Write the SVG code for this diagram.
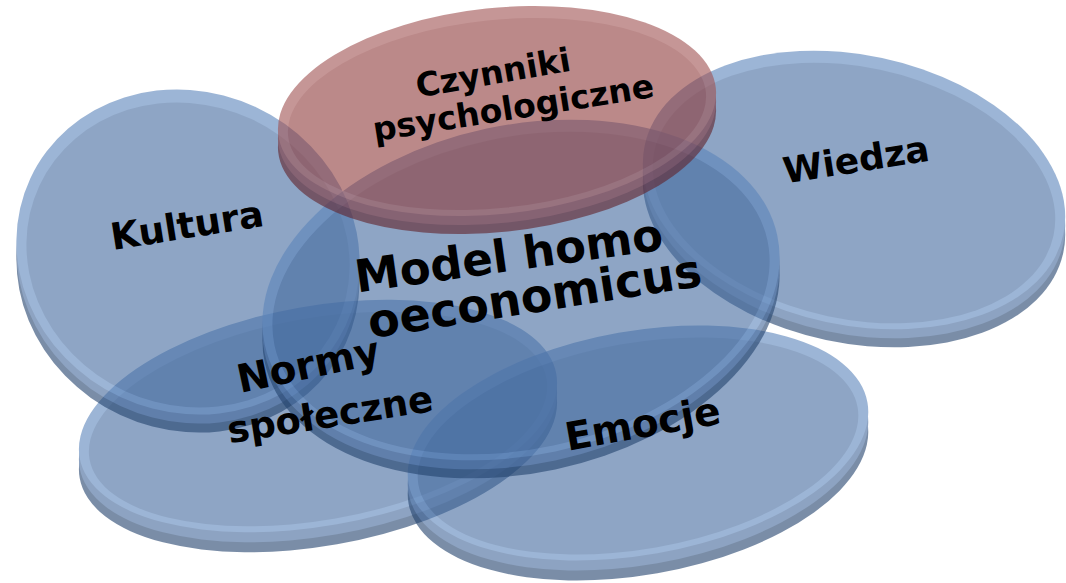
<svg xmlns="http://www.w3.org/2000/svg" width="1066" height="583" viewBox="0 0 1066 583">
<style>
.disc{opacity:.6}
.blue .sd{fill:#23436e}
.blue .sl{fill:#43679a}
.blue .rim{fill:#5c85bb}
.blue .face{fill:#446ba0}
.red .sd{fill:#62222a}
.red .sl{fill:#82383e}
.red .rim{fill:#a05252}
.red .face{fill:#8f3c3c}
.lbl{font-family:"DejaVu Sans","Liberation Sans",sans-serif;font-weight:bold;fill:#000;text-anchor:middle}
</style>
<rect width="1066" height="583" fill="#fff"/>
<g id="node-normy" class="disc blue">
 <ellipse class="sd" transform="translate(318 436) rotate(-10)" rx="242" ry="110"/>
 <ellipse class="sl" transform="translate(318 426) rotate(-10)" rx="242" ry="110"/>
 <ellipse class="rim" transform="translate(318 416) rotate(-10)" rx="242" ry="110"/>
 <ellipse class="face" transform="translate(318 419) rotate(-10)" rx="232" ry="101"/>
</g>
<g id="node-emocje" class="disc blue">
 <ellipse class="sd" transform="translate(638 463) rotate(-10)" rx="233" ry="112"/>
 <ellipse class="sl" transform="translate(638 453) rotate(-10)" rx="233" ry="112"/>
 <ellipse class="rim" transform="translate(638 443) rotate(-10)" rx="233" ry="112"/>
 <ellipse class="face" transform="translate(638 446) rotate(-10)" rx="223" ry="103"/>
</g>
<g id="node-kultura" class="disc blue">
 <ellipse class="sd" transform="translate(188 270) rotate(25)" rx="174" ry="160"/>
 <ellipse class="sl" transform="translate(188 261) rotate(25)" rx="174" ry="160"/>
 <ellipse class="rim" transform="translate(188 252) rotate(25)" rx="174" ry="160"/>
 <ellipse class="face" transform="translate(188 255) rotate(25)" rx="164" ry="150"/>
</g>
<g id="node-wiedza" class="disc blue">
 <ellipse class="sd" transform="translate(854 208) rotate(12)" rx="214" ry="135"/>
 <ellipse class="sl" transform="translate(854 199) rotate(12)" rx="214" ry="135"/>
 <ellipse class="rim" transform="translate(854 190) rotate(12)" rx="214" ry="135"/>
 <ellipse class="face" transform="translate(854 193) rotate(12)" rx="204" ry="126"/>
</g>
<g id="node-model" class="disc blue">
 <ellipse class="sd" transform="translate(521 308) rotate(-12)" rx="262" ry="165"/>
 <ellipse class="sl" transform="translate(521 299) rotate(-12)" rx="262" ry="165"/>
 <ellipse class="rim" transform="translate(521 290) rotate(-12)" rx="262" ry="165"/>
 <ellipse class="face" transform="translate(521 293) rotate(-12)" rx="252" ry="156"/>
</g>
<g id="node-czynniki" class="disc red">
 <ellipse class="sd" transform="translate(497 129) rotate(-6)" rx="220" ry="103"/>
 <ellipse class="sl" transform="translate(497 120) rotate(-6)" rx="220" ry="103"/>
 <ellipse class="rim" transform="translate(497 111) rotate(-6)" rx="220" ry="103"/>
 <ellipse class="face" transform="translate(497 114) rotate(-6)" rx="210" ry="94"/>
</g>
<g id="label-czynniki">
 <text class="lbl" font-size="33" transform="translate(495 84) rotate(-10)">Czynniki</text>
 <text class="lbl" font-size="33" transform="translate(515 119) rotate(-9)">psychologiczne</text>
</g>
<g id="label-kultura">
 <text class="lbl" font-size="37" transform="translate(189 238) rotate(-9)">Kultura</text>
</g>
<g id="label-wiedza">
 <text class="lbl" font-size="36" transform="translate(858 172) rotate(-9)">Wiedza</text>
</g>
<g id="label-model">
 <text class="lbl" font-size="45" transform="translate(511 271) rotate(-8)">Model homo</text>
 <text class="lbl" font-size="46" transform="translate(537 312) rotate(-9)">oeconomicus</text>
</g>
<g id="label-normy">
 <text class="lbl" font-size="39" transform="translate(311 378) rotate(-12)">Normy</text>
 <text class="lbl" font-size="37" transform="translate(332 427) rotate(-9)">społeczne</text>
</g>
<g id="label-emocje">
 <text class="lbl" font-size="39" transform="translate(645 437) rotate(-10)">Emocje</text>
</g>
</svg>
